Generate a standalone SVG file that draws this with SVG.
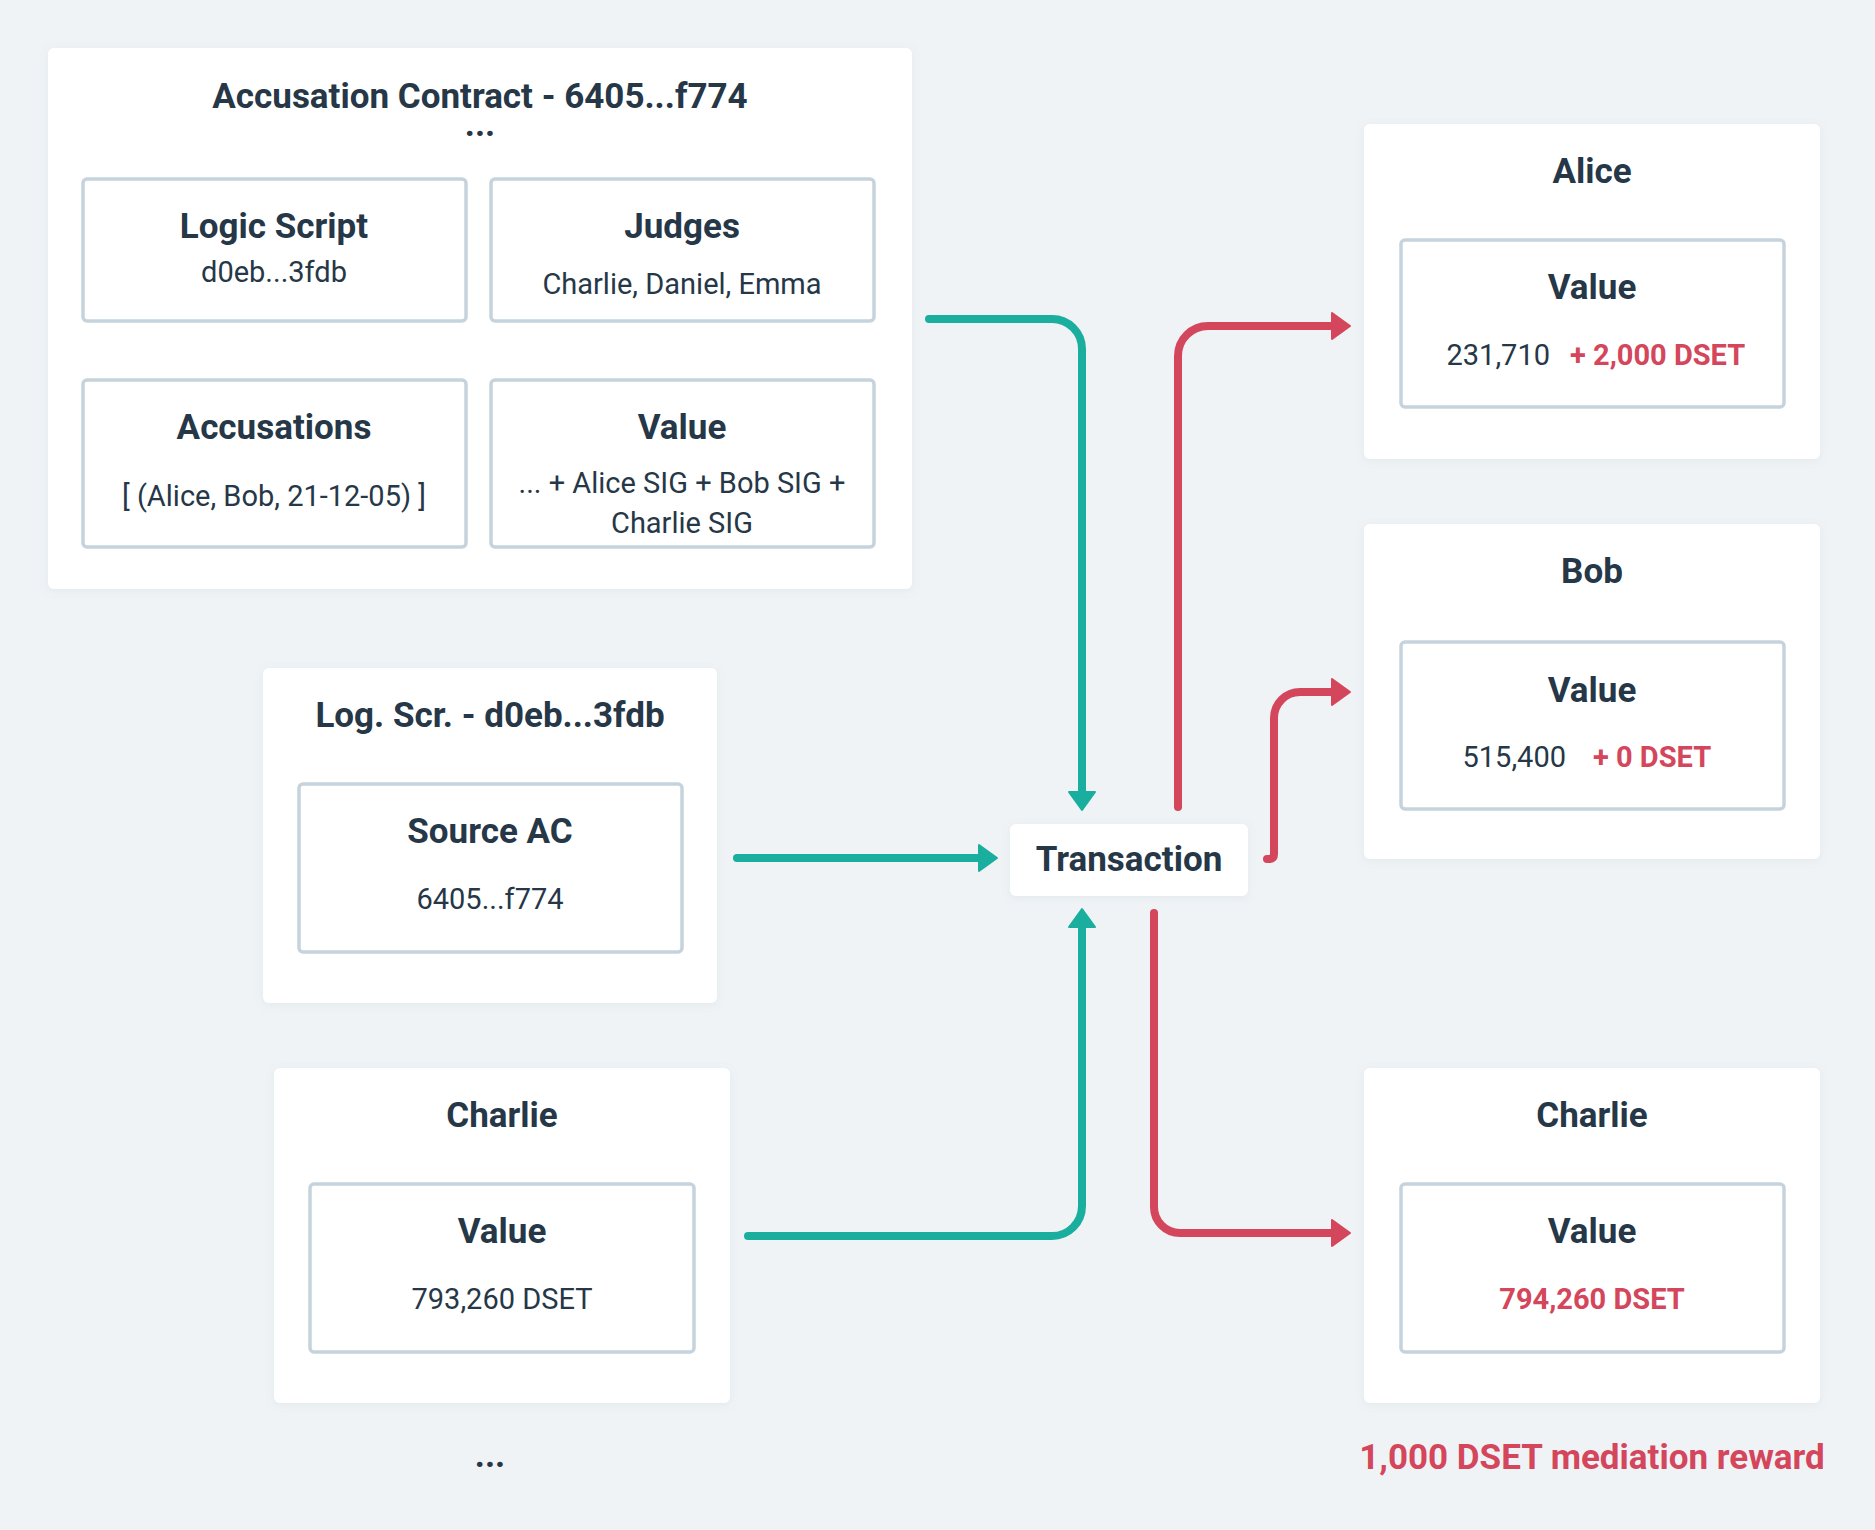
<svg xmlns="http://www.w3.org/2000/svg" width="1875" height="1530" viewBox="0 0 1875 1530">
<defs>
<style>
.card{fill:#ffffff;filter:url(#sh)}
.inner{fill:#ffffff;stroke:#c6d3dd;stroke-width:3.5}
.t{font-family:Roboto,"Liberation Sans",sans-serif;font-weight:700;font-size:35px;fill:#263747;text-anchor:middle}
.v{font-family:Roboto,"Liberation Sans",sans-serif;font-weight:400;font-size:29px;fill:#263747;text-anchor:middle}
.r{font-family:Roboto,"Liberation Sans",sans-serif;font-weight:700;font-size:29px;fill:#d4465b;text-anchor:middle}
.g{fill:none;stroke:#1aae9e;stroke-width:8;stroke-linecap:round;stroke-linejoin:round}
.rd{fill:none;stroke:#d4465b;stroke-width:8;stroke-linecap:round;stroke-linejoin:round}
</style>
<filter id="sh" x="-10%" y="-10%" width="120%" height="120%">
<feDropShadow dx="0" dy="2" stdDeviation="4" flood-color="#7a8a99" flood-opacity="0.10"/>
</filter>
<marker id="ag" markerUnits="userSpaceOnUse" markerWidth="22" markerHeight="30" viewBox="-2 -2 22 30" refX="0" refY="13" orient="auto">
<path d="M0,0 L18,13 L0,26 Z" fill="#1aae9e" stroke="#1aae9e" stroke-width="2" stroke-linejoin="round"/>
</marker>
<marker id="ar" markerUnits="userSpaceOnUse" markerWidth="22" markerHeight="30" viewBox="-2 -2 22 30" refX="0" refY="13" orient="auto">
<path d="M0,0 L18,13 L0,26 Z" fill="#d4465b" stroke="#d4465b" stroke-width="2" stroke-linejoin="round"/>
</marker>
</defs>
<rect x="0" y="0" width="1875" height="1530" fill="#eff3f6"/>

<g id="connectors">
<path class="g" d="M929,319 H1052 A30,30 0 0 1 1082,349 V792" marker-end="url(#ag)"/>
<path class="g" d="M737,858 H979" marker-end="url(#ag)"/>
<path class="g" d="M748,1236 H1052 A30,30 0 0 0 1082,1206 V927" marker-end="url(#ag)"/>
<path class="rd" d="M1178,807 V356 A30,30 0 0 1 1208,326 H1332" marker-end="url(#ar)"/>
<path class="rd" d="M1267,859 H1269 Q1274,859 1274,854 V718 A26,26 0 0 1 1300,692 H1332" marker-end="url(#ar)"/>
<path class="rd" d="M1154,913 V1207 A26,26 0 0 0 1180,1233 H1332" marker-end="url(#ar)"/>
</g>

<g id="accusation-contract">
<rect class="card" x="48" y="48" width="864" height="541" rx="6"/>
<text class="t" x="480" y="108">Accusation Contract - 6405...f774<tspan x="480" dy="28">...</tspan></text>
<g id="logic-script">
<rect class="inner" x="83" y="179" width="383" height="142" rx="4"/>
<text class="t" x="274" y="238">Logic Script</text>
<text class="v" x="274" y="282">d0eb...3fdb</text>
</g>
<g id="judges">
<rect class="inner" x="491" y="179" width="383" height="142" rx="4"/>
<text class="t" x="682" y="238">Judges</text>
<text class="v" x="682" y="294">Charlie, Daniel, Emma</text>
</g>
<g id="accusations">
<rect class="inner" x="83" y="380" width="383" height="167" rx="4"/>
<text class="t" x="274" y="439">Accusations</text>
<text class="v" x="274" y="506">[ (Alice, Bob, 21-12-05) ]</text>
</g>
<g id="ac-value">
<rect class="inner" x="491" y="380" width="383" height="167" rx="4"/>
<text class="t" x="682" y="439">Value</text>
<text class="v" x="682" y="493">... + Alice SIG + Bob SIG +</text>
<text class="v" x="682" y="533">Charlie SIG</text>
</g>
</g>

<g id="log-scr">
<rect class="card" x="263" y="668" width="454" height="335" rx="6"/>
<text class="t" x="490" y="727">Log. Scr. - d0eb...3fdb</text>
<rect class="inner" x="299" y="784" width="383" height="168" rx="4"/>
<text class="t" x="490" y="843">Source AC</text>
<text class="v" x="490" y="909">6405...f774</text>
</g>

<g id="charlie-in">
<rect class="card" x="274" y="1068" width="456" height="335" rx="6"/>
<text class="t" x="502" y="1127">Charlie</text>
<rect class="inner" x="310" y="1184" width="384" height="168" rx="4"/>
<text class="t" x="502" y="1243">Value</text>
<text class="v" x="502" y="1309">793,260 DSET</text>
</g>

<g id="more-inputs">
<text class="t" x="490" y="1467">...</text>
</g>

<g id="transaction">
<rect class="card" x="1010" y="824" width="238" height="72" rx="6"/>
<text class="t" x="1129" y="871">Transaction</text>
</g>

<g id="alice">
<rect class="card" x="1364" y="124" width="456" height="335" rx="6"/>
<text class="t" x="1592" y="183">Alice</text>
<rect class="inner" x="1401" y="240" width="383" height="167" rx="4"/>
<text class="t" x="1592" y="299">Value</text>
<text class="v" x="1550" y="365" style="text-anchor:end">231,710</text>
<text class="r" x="1570" y="365" style="text-anchor:start">+ 2,000 DSET</text>
</g>

<g id="bob">
<rect class="card" x="1364" y="524" width="456" height="335" rx="6"/>
<text class="t" x="1592" y="583">Bob</text>
<rect class="inner" x="1401" y="642" width="383" height="167" rx="4"/>
<text class="t" x="1592" y="702">Value</text>
<text class="v" x="1566" y="767" style="text-anchor:end">515,400</text>
<text class="r" x="1593" y="767" style="text-anchor:start">+ 0 DSET</text>
</g>

<g id="charlie-out">
<rect class="card" x="1364" y="1068" width="456" height="335" rx="6"/>
<text class="t" x="1592" y="1127">Charlie</text>
<rect class="inner" x="1401" y="1184" width="383" height="168" rx="4"/>
<text class="t" x="1592" y="1243">Value</text>
<text class="r" x="1592" y="1309">794,260 DSET</text>
</g>

<g id="reward-note">
<text class="t" x="1592" y="1469" style="fill:#d4465b">1,000 DSET mediation reward</text>
</g>
</svg>
